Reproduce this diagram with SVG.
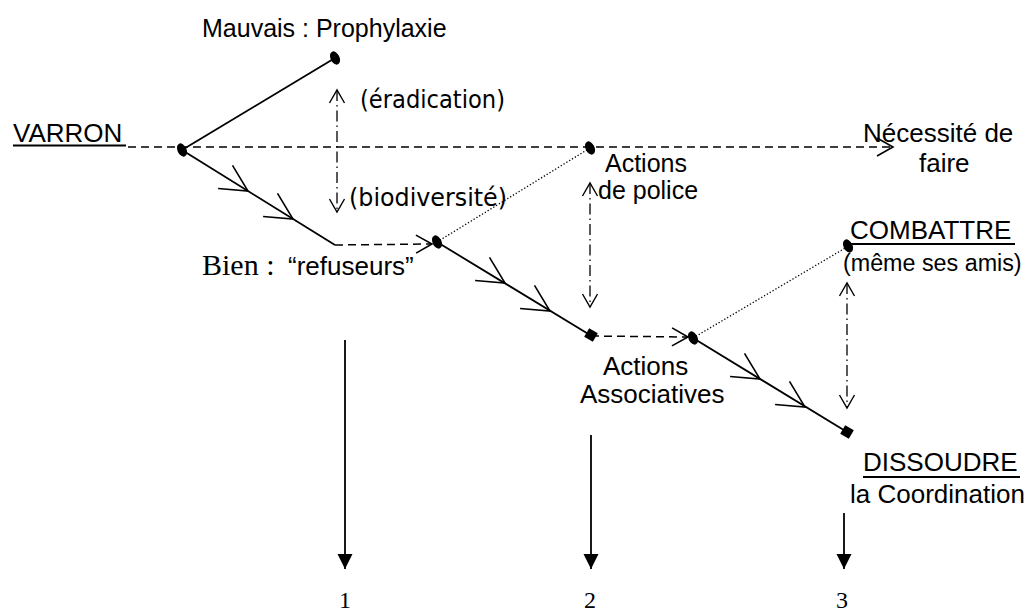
<svg xmlns="http://www.w3.org/2000/svg" xmlns:xlink="http://www.w3.org/1999/xlink" width="1030" height="611" viewBox="0 0 1030 611">
<style>
.sans{font-family:"Liberation Sans",Arial,sans-serif;font-size:26px;fill:#000}
.serif{font-family:"Liberation Serif","Times New Roman",serif;fill:#000}
.comic{font-family:"DejaVu Sans","Comic Sans MS",sans-serif;font-size:24px;fill:#000}
.solid{stroke:#000;stroke-width:1.8;fill:none}
.dash{stroke:#000;stroke-width:1.5;fill:none;stroke-dasharray:8 5}
.dot{stroke:#000;stroke-width:1.3;fill:none;stroke-dasharray:1.3 2}
.dashdot{stroke:#000;stroke-width:1.3;fill:none;stroke-dasharray:11 4 1.5 4}
.ul{stroke:#000;stroke-width:2}
.chev{stroke:#000;stroke-width:1.6;fill:none}
.dotnode{fill:#000}
</style>
<defs>
<marker id="openBig" markerUnits="userSpaceOnUse" markerWidth="20" markerHeight="22" viewBox="-1 -11 20 22" refX="16" refY="0" orient="auto">
<path d="M0,-9 L16,0 L0,9" stroke="#000" stroke-width="1.6" fill="none"/>
</marker>
<marker id="openSmall" markerUnits="userSpaceOnUse" markerWidth="16" markerHeight="18" viewBox="-1 -9 16 18" refX="13" refY="0" orient="auto-start-reverse">
<path d="M0,-7.5 L13,0 L0,7.5" stroke="#000" stroke-width="1.4" fill="none"/>
</marker>
<marker id="solidTri" markerUnits="userSpaceOnUse" markerWidth="16" markerHeight="16" viewBox="0 -8 16 16" refX="15" refY="0" orient="auto">
<path d="M0,-7.5 L15,0 L0,7.5 Z" fill="#000"/>
</marker>
<path id="chev" d="M-15.5,-25.7 L0,0 L-29.9,-2.5"/>
</defs>

<g id="connectors">
<line class="solid" x1="182" y1="150" x2="335" y2="58"/>
<line class="dash" x1="128" y1="147" x2="893" y2="147" marker-end="url(#openBig)"/>
<line class="solid" x1="182" y1="150" x2="335" y2="245"/>
<use class="chev" xlink:href="#chev" transform="translate(248,191)"/>
<use class="chev" xlink:href="#chev" transform="translate(293,219)"/>
<line class="dash" x1="335" y1="245" x2="432" y2="244" marker-end="url(#openBig)"/>
<line class="dot" x1="437" y1="242" x2="590" y2="148"/>
<line class="solid" x1="437" y1="242" x2="590" y2="335"/>
<use class="chev" xlink:href="#chev" transform="translate(505,283)"/>
<use class="chev" xlink:href="#chev" transform="translate(550,311)"/>
<line class="dash" x1="591" y1="336" x2="688" y2="337" marker-end="url(#openBig)"/>
<line class="dot" x1="693" y1="338" x2="847" y2="247"/>
<line class="solid" x1="693" y1="338" x2="847" y2="432"/>
<use class="chev" xlink:href="#chev" transform="translate(760,379)"/>
<use class="chev" xlink:href="#chev" transform="translate(805,407)"/>
<line class="dashdot" x1="337" y1="90" x2="337" y2="212" marker-start="url(#openSmall)" marker-end="url(#openSmall)"/>
<line class="dashdot" x1="590" y1="183" x2="590" y2="307" marker-start="url(#openSmall)" marker-end="url(#openSmall)"/>
<line class="dashdot" x1="847" y1="283" x2="847" y2="408" marker-start="url(#openSmall)" marker-end="url(#openSmall)"/>
<line class="solid" x1="345" y1="340" x2="345" y2="569" marker-end="url(#solidTri)"/>
<line class="solid" x1="591" y1="435" x2="591" y2="569" marker-end="url(#solidTri)"/>
<line class="solid" x1="844" y1="513" x2="844" y2="569" marker-end="url(#solidTri)"/>
</g>

<g id="n-varron">
<text class="sans" x="13" y="142">VARRON</text>
<line class="ul" x1="13" y1="145.5" x2="126" y2="145.5"/>
<ellipse class="dotnode" cx="182" cy="150" rx="4.5" ry="7" transform="rotate(-25 182 150)"/>
</g>

<g id="n-mauvais">
<text class="sans" x="202" y="37" style="font-size:25px">Mauvais : Prophylaxie</text>
<ellipse class="dotnode" cx="335" cy="58" rx="4.5" ry="7" transform="rotate(-25 335 58)"/>
</g>

<g id="n-eradication">
<text class="comic" x="360" y="108" textLength="145" lengthAdjust="spacingAndGlyphs">(éradication)</text>
</g>

<g id="n-biodiversite">
<text class="comic" x="349" y="206" textLength="158" lengthAdjust="spacingAndGlyphs">(biodiversité)</text>
</g>

<g id="n-bien">
<text x="202" y="275"><tspan class="serif" style="font-size:30px">Bien :</tspan><tspan class="sans" x="288">“refuseurs”</tspan></text>
<ellipse class="dotnode" cx="437" cy="242" rx="4.5" ry="7" transform="rotate(-25 437 242)"/>
</g>

<g id="n-police">
<ellipse class="dotnode" cx="590" cy="148" rx="4.5" ry="7" transform="rotate(-25 590 148)"/>
<text class="sans" x="605" y="172" style="font-size:25px">Actions</text>
<text class="sans" x="598" y="199" style="font-size:25px">de police</text>
</g>

<g id="n-necessite">
<text class="sans" x="863" y="142">Nécessité de</text>
<text class="sans" x="919" y="172">faire</text>
</g>

<g id="n-assoc">
<rect class="dotnode" x="586" y="330" width="10" height="10" transform="rotate(30 591 335)"/>
<ellipse class="dotnode" cx="693" cy="338" rx="4.5" ry="7" transform="rotate(-25 693 338)"/>
<text class="sans" x="603" y="375">Actions</text>
<text class="sans" x="580" y="403">Associatives</text>
</g>

<g id="n-combattre">
<ellipse class="dotnode" cx="848" cy="246" rx="4.5" ry="7" transform="rotate(-25 848 246)"/>
<text class="sans" x="850" y="239">COMBATTRE</text>
<line class="ul" x1="850" y1="244" x2="1015" y2="244"/>
<text class="sans" x="843" y="271" style="font-size:23.3px">(même ses amis)</text>
</g>

<g id="n-dissoudre">
<rect class="dotnode" x="842" y="427" width="10" height="10" transform="rotate(30 847 432)"/>
<text class="sans" x="863" y="471">DISSOUDRE</text>
<line class="ul" x1="863" y1="477" x2="1020" y2="477"/>
<text class="sans" x="850" y="503">la Coordination</text>
</g>

<g id="n-numbers">
<text class="serif" x="345" y="608" text-anchor="middle" style="font-size:24px">1</text>
<text class="serif" x="590" y="608" text-anchor="middle" style="font-size:24px">2</text>
<text class="serif" x="842" y="608" text-anchor="middle" style="font-size:24px">3</text>
</g>
</svg>
